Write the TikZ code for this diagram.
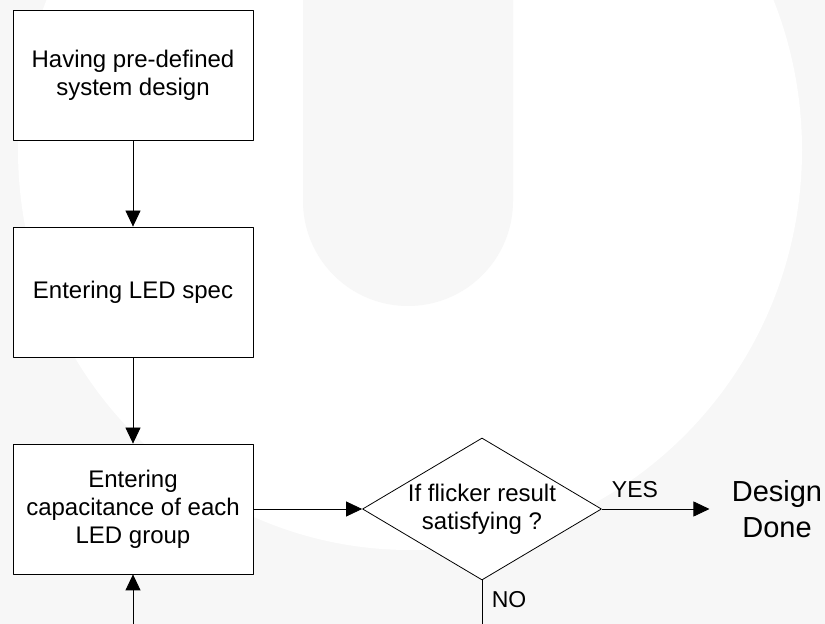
\documentclass[tikz,border=0pt]{standalone}
\usepackage{fontspec}
\setmainfont{Liberation Sans}
\usetikzlibrary{shapes.geometric,arrows.meta}
\definecolor{wmgray}{HTML}{F7F7F7}
\begin{document}
\begin{tikzpicture}[>={Triangle[length=16bp,width=15bp]},line join=bevel,line width=0.8bp,
  stepbox/.style={draw=black,rectangle,fill=white,minimum width=240bp,minimum height=130bp,
    inner sep=0pt,align=center,font=\fontsize{24bp}{28bp}\selectfont},
  decision/.style={draw=black,diamond,fill=white,minimum width=239bp,minimum height=142bp,
    shape aspect=1.68,inner sep=0pt,align=center,font=\fontsize{24bp}{28bp}\selectfont},
  edgelabel/.style={inner sep=0pt,font=\fontsize{23bp}{27bp}\selectfont},
  endtext/.style={inner xsep=22bp,inner ysep=0pt,align=center,font=\fontsize{29bp}{36bp}\selectfont}]
\useasboundingbox (0,0) rectangle (825bp,624bp);
\clip (0,0) rectangle (825bp,624bp);
%% faint background logo
\fill [wmgray] (0,0) rectangle (825bp,624bp);
\fill [white] (410bp,474bp) ellipse [x radius=392bp,y radius=400bp];
\fill [wmgray] (303bp,624bp) -- (303bp,423bp) arc [start angle=180,end angle=360,radius=105bp] -- (513bp,624bp) -- cycle;
%%
\node (have_design) at (133bp,549bp) [stepbox] {Having pre-defined\\system design};
  \node (enter_spec) at (133bp,332bp) [stepbox] {Entering LED spec};
  \node (enter_cap) at (133bp,115bp) [stepbox] {Entering\\capacitance of each\\LED group};
  \node (flicker_check) at (482bp,115bp) [decision] {If flicker result\\satisfying ?};
  \node (design_done) at (777bp,115bp) [endtext] {Design\\Done};
  \node (yes_label) at (635bp,134bp) [edgelabel] {YES};
  \node (no_label) at (509bp,24bp) [edgelabel] {NO};
  \coordinate (cap_in) at (133bp,0bp);
  \coordinate (no_out) at (482bp,0bp);
  \draw [->,solid] (have_design) -- (enter_spec);
  \draw [->,solid] (enter_spec) -- (enter_cap);
  \draw [->,solid] (enter_cap) -- (flicker_check);
  \draw [->,solid] (flicker_check) -- (design_done);
  \draw [-,solid] (flicker_check) -- (no_out);
  \draw [->,solid] (cap_in) -- (enter_cap);
%
\end{tikzpicture}
\end{document}
